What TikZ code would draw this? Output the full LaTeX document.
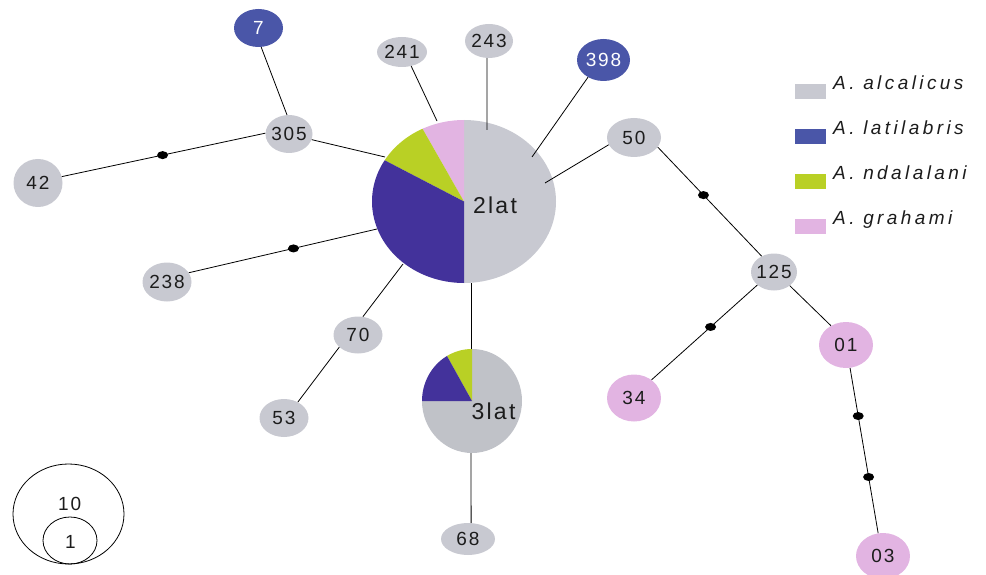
\documentclass[tikz,border=0pt]{standalone}
\usepackage{fontspec}
\setmainfont{Liberation Sans}
\newfontfamily\spaced{Liberation Sans}[LetterSpace=10]
\newfontfamily\legspaced{Liberation Sans}[LetterSpace=18]
\usetikzlibrary{shapes.geometric}
\definecolor{cgrey}{RGB}{200,201,209}
\definecolor{cgreyb}{RGB}{192,194,200}
\definecolor{cblue}{RGB}{74,86,168}
\definecolor{cpurple}{RGB}{67,50,155}
\definecolor{cgreen}{RGB}{185,208,37}
\definecolor{cpink}{RGB}{226,180,226}
\definecolor{txt}{RGB}{28,28,28}
\begin{document}
\begin{tikzpicture}[x=1pt,y=-1pt,
  hap/.style={ellipse, inner sep=0pt, fill=cgrey},
  blu/.style={hap, fill=cblue},
  pnk/.style={hap, fill=cpink},
  lab/.style={inner sep=0pt, text=txt, font=\spaced\fontsize{19}{21}\selectfont},
  wlab/.style={lab, text=white},
  pielab/.style={inner sep=0pt, text=txt, font=\spaced\fontsize{23}{25}\selectfont},
  dot/.style={ellipse, fill=black, inner sep=0pt, minimum width=11pt, minimum height=8pt},
  link/.style={line width=0.8pt, black},
  sq/.style={rectangle, inner sep=0pt, minimum width=31pt, minimum height=15pt},
  legtxt/.style={anchor=base west, inner sep=0pt, text=txt, font=\legspaced\itshape\fontsize{19}{21}\selectfont},
  scal/.style={ellipse, draw=black, line width=0.8pt, inner sep=0pt}]
\useasboundingbox (0,0) rectangle (986,575);

% big pie 2lat
\coordinate (P2c) at (464,201.5);
\fill[cgrey] (P2c) -- ++(-90:92pt and 81.5pt) arc[start angle=-90,end angle=90,x radius=92pt,y radius=81.5pt] -- cycle;
\fill[cpink] (P2c) -- ++(90:92pt and 81.5pt) arc[start angle=90,end angle=116.8,x radius=92pt,y radius=81.5pt] -- cycle;
\fill[cgreen] (P2c) -- ++(116.8:92pt and 81.5pt) arc[start angle=116.8,end angle=149.6,x radius=92pt,y radius=81.5pt] -- cycle;
\fill[cpurple] (P2c) -- ++(149.6:92pt and 81.5pt) arc[start angle=149.6,end angle=270,x radius=92pt,y radius=81.5pt] -- cycle;
\node[pielab] (l2lat) at (495,205) {2lat};

% small pie 3lat
\coordinate (P3c) at (472,401);
\fill[cgreyb] (P3c) -- ++(180:50pt and 52pt) arc[start angle=180,end angle=450,x radius=50pt,y radius=52pt] -- cycle;
\fill[cgreen] (P3c) -- ++(90:50pt and 52pt) arc[start angle=90,end angle=120,x radius=50pt,y radius=52pt] -- cycle;
\fill[cpurple] (P3c) -- ++(120:50pt and 52pt) arc[start angle=120,end angle=180,x radius=50pt,y radius=52pt] -- cycle;
\node[pielab] (l3lat) at (493.5,411) {3lat};

% haplotype nodes
\node[blu, minimum width=49pt, minimum height=38pt, label={[wlab]center:7}] (n7) at (258.5,28) {};
\node[hap, minimum width=47pt, minimum height=38pt, label={[lab]center:305}] (n305) at (289,134) {};
\node[hap, minimum width=49pt, minimum height=48pt, label={[lab]center:42}] (n42) at (38,183) {};
\node[hap, minimum width=50pt, minimum height=30pt, label={[lab]center:241}] (n241) at (402,52) {};
\node[hap, minimum width=48pt, minimum height=34pt, label={[lab]center:243}] (n243) at (489,41) {};
\node[blu, minimum width=53pt, minimum height=42pt, label={[wlab]center:398}] (n398) at (603.5,60) {};
\node[hap, minimum width=54pt, minimum height=39pt, label={[lab]center:50}] (n50) at (634,137.5) {};
\node[hap, minimum width=46pt, minimum height=37pt, label={[lab]center:125}] (n125) at (774,272) {};
\node[pnk, minimum width=54pt, minimum height=47pt, label={[lab]center:34}] (n34) at (634,398) {};
\node[pnk, minimum width=54pt, minimum height=46pt, label={[lab]center:01}] (n01) at (846,345) {};
\node[pnk, minimum width=54pt, minimum height=46pt, label={[lab]center:03}] (n03) at (883,556) {};
\node[hap, minimum width=49pt, minimum height=39pt, label={[lab]center:238}] (n238) at (167,282) {};
\node[hap, minimum width=49pt, minimum height=37pt, label={[lab]center:70}] (n70) at (358,335) {};
\node[hap, minimum width=49pt, minimum height=38pt, label={[lab]center:53}] (n53) at (284,418) {};
\node[hap, minimum width=54pt, minimum height=32pt, label={[lab]center:68}] (n68) at (468,539) {};

% pie connection points
\coordinate (c305) at (385,157);
\coordinate (c241) at (437,121);
\coordinate (c243) at (487,130);
\coordinate (c398) at (532,157);
\coordinate (c50) at (545,183);
\coordinate (c238) at (377,229);
\coordinate (c70) at (403,264);
\coordinate (c2b) at (471,283);
\coordinate (c3t) at (471,349);
\coordinate (c3b) at (471,453);

% connectors
\draw[link] (n7.-82.5) -- (n305.96);
\draw[link] (n42.15.6) -- node[dot, pos=0.495] (d1) {} (n305.178);
\draw[link] (n305.-14.6) -- (c305);
\draw[link] (n241.-57) -- (c241);
\draw[link] (n243.-97) -- (c243);
\draw[link] (n398.-132.4) -- (c398);
\draw[link] (n50.196) -- (c50);
\draw[link] (n50.-22.4) -- node[dot, pos=0.44] (d3) {} (n125.128.7);
\draw[link] (n125.-142.6) -- node[dot, pos=0.442] (d4) {} (n34.46.5);
\draw[link] (n125.-41.4) -- (n01.128.7);
\draw[link] (n01.-80) -- node[dot, pos=0.291] (d5) {} node[dot, pos=0.66] (d6) {} (n03.102);
\draw[link] (n238.23.2) -- node[dot, pos=0.556] (d2) {} (c238);
\draw[link] (n70.75) -- (c70);
\draw[link] (n70.-147.7) -- (n53.49);
\draw[link] (c2b) -- (c3t);
\draw[link] (c3b) -- (n68.79);

% legend
\node[sq, fill=cgrey] (k1) at (810.5,91.5) {};
\node[sq, fill=cblue] (k2) at (810.5,136.5) {};
\node[sq, fill=cgreen] (k3) at (810.5,181.5) {};
\node[sq, fill=cpink] (k4) at (810.5,226.5) {};
\node[legtxt] (t1) at (833,90) {A. alcalicus};
\node[legtxt] (t2) at (833,135) {A. latilabris};
\node[legtxt] (t3) at (833,180) {A. ndalalani};
\node[legtxt] (t4) at (833,225) {A. grahami};

% scale circles
\node[scal, minimum width=111pt, minimum height=100pt] (s10) at (68.5,514) {};
\node[lab] (t10) at (69.7,503.5) {10};
\node[scal, minimum width=54pt, minimum height=47pt] (s1) at (70,540.5) {};
\node[lab] (t1s) at (70.3,541.5) {1};
\end{tikzpicture}
\end{document}
